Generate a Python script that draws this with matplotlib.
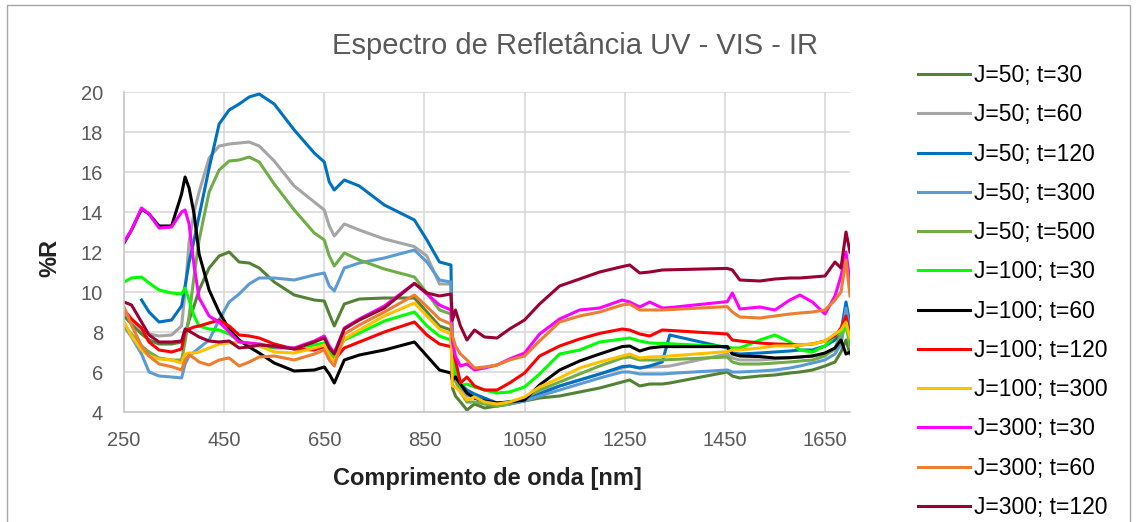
import numpy as np
import matplotlib
matplotlib.use("Agg")
import matplotlib.pyplot as plt
from matplotlib.patches import Rectangle

plt.rcParams["font.family"] = ["Liberation Sans", "DejaVu Sans"]

nan = np.nan

# wavelength grid [nm]: UV-VIS detector, then IR detector (step at ~905 nm)
wl_uv = [250, 265, 285, 300, 320, 345, 365, 372, 380, 390, 400, 420, 440, 460, 480,
         500, 520, 550, 590, 630, 650, 660, 670, 690, 720, 770, 830, 855, 880, 903]
wl_ir = [906, 912, 922, 935, 950, 970, 995, 1020, 1050, 1080, 1120, 1160, 1200, 1245,
         1260, 1280, 1300, 1325, 1340, 1455, 1465, 1480, 1520, 1550, 1580, 1600, 1625,
         1650, 1670, 1682, 1692, 1700]
wavelength = wl_uv + wl_ir

labels = ["J=50; t=30", "J=50; t=60", "J=50; t=120", "J=50; t=300", "J=50; t=500",
          "J=100; t=30", "J=100; t=60", "J=100; t=120", "J=100; t=300",
          "J=300; t=30", "J=300; t=60", "J=300; t=120"]

colors = ["#548235", "#A5A5A5", "#0070C0", "#5B9BD5", "#70AD47", "#00FF00",
          "#000000", "#FF0000", "#FFC000", "#FF00FF", "#ED7D31", "#990033"]

# %R values (UV-VIS part + IR part)
r_j50_t30 = [8.8, 8.4, 7.9, 7.6, 7.4, 7.4, 7.5, 7.9, 8.6, 9.3, 10.1, 11.2, 11.8, 12.0, 11.5,
             11.45, 11.2, 10.5, 9.85, 9.6, 9.55, 8.9, 8.3, 9.4, 9.65, 9.7, 9.7, 9.0, 8.3, 8.1] + \
            [5.2, 4.8, 4.5, 4.1, 4.4, 4.2, 4.3, 4.4, 4.55, 4.7, 4.8, 5.0, 5.2, 5.5, 5.6, 5.3,
             5.4, 5.4, 5.45, 6.0, 5.8, 5.7, 5.8, 5.85, 5.95, 6.0, 6.1, 6.3, 6.5, 7.0, 7.6, 6.9]
r_j50_t60 = [9.0, 8.6, 8.1, 7.9, 7.8, 7.85, 8.3, 10.0, 12.5, 14.0, 15.0, 16.7, 17.3, 17.4, 17.45,
             17.5, 17.3, 16.55, 15.3, 14.5, 14.1, 13.3, 12.8, 13.4, 13.1, 12.65, 12.27, 11.8, 10.4, 10.4] + \
            [6.0, 5.5, 5.2, 4.8, 4.8, 4.6, 4.4, 4.5, 4.7, 5.0, 5.3, 5.6, 5.9, 6.2, 6.3, 6.2,
             6.25, 6.27, 6.3, 6.9, 6.7, 6.6, 6.6, 6.65, 6.7, 6.75, 6.8, 6.9, 7.1, 7.5, 8.6, 7.6]
r_j50_t120 = [nan, nan, 9.6, 9.0, 8.5, 8.6, 9.3, 10.3, 11.5, 12.6, 13.8, 16.2, 18.4, 19.1, 19.4,
              19.75, 19.9, 19.4, 18.1, 16.95, 16.5, 15.5, 15.1, 15.6, 15.3, 14.35, 13.6, 12.6, 11.5, 11.35] + \
             [6.8, 6.0, 5.4, 5.1, 4.9, 4.7, 4.45, 4.5, 4.6, 4.9, 5.3, 5.6, 5.9, 6.27, 6.3, 6.2,
              6.3, 6.5, 7.85, 7.2, 6.95, 6.9, 6.95, 7.0, 7.05, 7.1, 7.1, 7.3, 7.6, 8.0, 9.5, 8.4]
r_j50_t300 = [8.3, 7.75, 6.9, 6.0, 5.8, 5.75, 5.7, 6.4, 6.8, 7.0, 7.2, 7.6, 8.6, 9.5, 9.9,
              10.4, 10.7, 10.7, 10.6, 10.85, 10.95, 10.3, 10.05, 11.2, 11.45, 11.7, 12.1, 11.5, 10.6, 10.5] + \
             [6.5, 5.8, 5.3, 4.9, 4.7, 4.5, 4.3, 4.4, 4.55, 4.8, 5.1, 5.4, 5.7, 6.0, 6.0, 5.9,
              5.9, 5.9, 5.93, 6.1, 6.0, 6.0, 6.05, 6.1, 6.2, 6.3, 6.45, 6.6, 6.9, 7.4, 9.2, 8.1]
r_j50_t500 = [8.3, 7.9, 7.3, 7.0, 6.7, 6.6, 6.6, 7.5, 8.8, 10.8, 12.6, 15.0, 16.1, 16.55, 16.6,
              16.75, 16.5, 15.4, 14.1, 12.95, 12.6, 11.8, 11.3, 11.95, 11.6, 11.15, 10.75, 9.95, 9.1, 8.9] + \
             [6.3, 5.6, 5.0, 4.5, 4.5, 4.4, 4.3, 4.4, 4.7, 5.1, 5.5, 5.9, 6.3, 6.7, 6.75, 6.6,
              6.6, 6.6, 6.62, 6.75, 6.5, 6.4, 6.4, 6.45, 6.5, 6.55, 6.6, 6.8, 7.2, 7.9, 8.3, 7.3]
r_j100_t30 = [10.5, 10.7, 10.75, 10.45, 10.1, 9.95, 9.9, 10.2, 9.6, 8.8, 8.3, 8.15, 8.1, 7.9, 7.55,
              7.4, 7.3, 7.2, 7.2, 7.35, 7.45, 7.0, 6.8, 7.6, 7.95, 8.55, 9.0, 8.3, 7.8, 7.6] + \
             [6.8, 6.0, 5.3, 5.4, 5.25, 5.1, 4.95, 5.0, 5.25, 5.9, 6.9, 7.1, 7.5, 7.65, 7.7, 7.55,
              7.45, 7.43, 7.41, 7.27, 7.2, 7.2, 7.6, 7.85, 7.5, 7.1, 7.0, 7.3, 7.8, 8.0, 8.3, 7.6]
r_j100_t60 = [12.45, 13.1, 14.15, 13.9, 13.3, 13.3, 14.9, 15.75, 15.2, 13.9, 11.9, 10.1, 9.0, 8.15, 7.6,
              7.25, 6.95, 6.45, 6.05, 6.1, 6.25, 5.9, 5.45, 6.6, 6.85, 7.1, 7.5, 6.8, 6.1, 5.95] + \
             [5.6, 5.75, 5.4, 4.95, 4.7, 4.55, 4.45, 4.5, 4.6, 5.35, 6.1, 6.55, 6.9, 7.27, 7.3, 7.05,
              7.2, 7.27, 7.27, 7.27, 6.9, 6.8, 6.77, 6.7, 6.72, 6.75, 6.8, 6.95, 7.2, 7.6, 6.9, 7.0]
r_j100_t120 = [9.1, 8.65, 8.2, 7.5, 7.1, 7.0, 7.15, 8.0, 8.15, 8.25, 8.3, 8.45, 8.6, 8.3, 7.85,
               7.8, 7.7, 7.4, 7.15, 7.1, 7.27, 6.8, 6.6, 7.2, 7.5, 8.0, 8.5, 7.85, 7.4, 7.27] + \
              [7.0, 6.6, 5.45, 5.75, 5.3, 5.1, 5.1, 5.45, 5.95, 6.8, 7.3, 7.65, 7.93, 8.15, 8.1, 7.9,
               7.8, 8.1, 8.08, 7.9, 7.6, 7.55, 7.45, 7.4, 7.38, 7.35, 7.4, 7.55, 7.8, 8.2, 8.8, 7.8]
r_j100_t300 = [8.5, 7.8, 7.1, 6.8, 6.65, 6.6, 6.45, 6.9, 6.95, 6.95, 7.0, 7.2, 7.4, 7.45, 7.5,
               7.45, 7.3, 7.0, 6.95, 7.2, 7.35, 6.8, 6.55, 7.65, 8.1, 8.8, 9.45, 8.8, 8.15, 7.9] + \
              [5.3, 5.25, 5.0, 4.6, 4.75, 4.5, 4.4, 4.5, 4.75, 5.25, 5.7, 6.2, 6.5, 6.8, 6.9, 6.7,
               6.75, 6.77, 6.8, 7.02, 7.1, 7.1, 7.2, 7.3, 7.3, 7.35, 7.4, 7.55, 7.9, 8.1, 8.5, 7.7]
r_j300_t30 = [12.5, 13.1, 14.2, 13.9, 13.2, 13.25, 14.0, 14.1, 13.4, 11.3, 9.7, 8.8, 8.5, 8.0, 7.5,
              7.45, 7.4, 7.25, 7.2, 7.55, 7.8, 7.3, 6.95, 8.2, 8.65, 9.3, 10.43, 9.9, 9.35, 9.1] + \
             [7.5, 6.8, 6.3, 6.4, 6.1, 6.2, 6.35, 6.65, 6.95, 7.9, 8.65, 9.1, 9.2, 9.6, 9.5, 9.25,
              9.5, 9.2, 9.22, 9.52, 9.95, 9.15, 9.25, 9.1, 9.6, 9.85, 9.5, 8.9, 9.8, 10.8, 12.0, 10.5]
r_j300_t60 = [9.25, 8.35, 7.3, 6.8, 6.4, 6.27, 6.1, 6.6, 6.85, 6.7, 6.5, 6.35, 6.6, 6.7, 6.3,
              6.5, 6.75, 6.8, 6.6, 6.9, 7.1, 6.6, 6.3, 7.9, 8.35, 9.0, 9.85, 9.27, 8.65, 8.4] + \
             [7.8, 7.3, 6.9, 6.6, 6.2, 6.25, 6.35, 6.6, 6.8, 7.55, 8.5, 8.8, 9.0, 9.35, 9.4, 9.1,
              9.1, 9.1, 9.12, 9.27, 9.0, 8.75, 8.7, 8.8, 8.9, 8.95, 9.0, 9.1, 9.6, 10.0, 11.6, 9.8]
r_j300_t120 = [9.5, 9.35, 8.5, 7.85, 7.5, 7.5, 7.55, 8.15, 8.05, 7.9, 7.75, 7.55, 7.5, 7.55, 7.2,
               7.25, 7.35, 7.3, 7.15, 7.5, 7.7, 7.2, 6.9, 8.15, 8.6, 9.2, 10.43, 9.95, 9.8, 9.9] + \
              [8.6, 9.1, 8.3, 7.6, 8.1, 7.75, 7.7, 8.15, 8.6, 9.4, 10.3, 10.65, 11.0, 11.27, 11.35, 10.95,
               11.0, 11.1, 11.11, 11.18, 11.1, 10.6, 10.55, 10.65, 10.7, 10.7, 10.75, 10.8, 11.5, 11.2, 13.0, 12.0]

series = [r_j50_t30, r_j50_t60, r_j50_t120, r_j50_t300, r_j50_t500,
          r_j100_t30, r_j100_t60, r_j100_t120, r_j100_t300,
          r_j300_t30, r_j300_t60, r_j300_t120]


def main():
    W, H = 1136, 522
    fig = plt.figure(figsize=(W / 100, H / 100), dpi=100)
    ax = fig.add_axes([124 / W, 1 - 412 / H, (850 - 124) / W, (412 - 92) / H])

    handles = []
    for vals, lab, col in zip(series, labels, colors):
        h, = ax.plot(wavelength, vals, color=col, lw=2.2, label=lab)
        handles.append(h)

    ax.set_xlim(250, 1700)
    ax.set_ylim(4, 20)
    ax.set_xticks(range(250, 1700, 200))
    ax.set_yticks(range(4, 21, 2))
    ax.grid(True, color="#D9D9D9", lw=1.2)
    ax.set_axisbelow(True)
    for s in ["top", "right"]:
        ax.spines[s].set_visible(False)
    for s in ["left", "bottom"]:
        ax.spines[s].set_color("#C8C8C8")
        ax.spines[s].set_linewidth(1.2)
    ax.tick_params(length=0, labelsize=14.5, colors="#595959")
    ax.tick_params(axis="y", pad=15)
    ax.tick_params(axis="x", pad=14)

    fig.text(575 / W, 1 - 46 / H, "Espectro de Refletância UV - VIS - IR",
             ha="center", va="center", fontsize=21, color="#595959")
    fig.text(487 / W, 1 - 478 / H, "Comprimento de onda [nm]",
             ha="center", va="center", fontsize=17, fontweight="bold", color="#222222")
    fig.text(50 / W, 1 - 258 / H, "%R", rotation=90,
             ha="center", va="center", fontsize=17, fontweight="bold", color="#222222")

    fig.legend(handles, labels, loc="upper left",
               bbox_to_anchor=(918 / W, 1 - 64 / H), frameon=False, fontsize=16.5,
               handlelength=2.25, handletextpad=0.2, labelspacing=0.71, borderpad=0,
               borderaxespad=0)

    fig.patches.append(Rectangle((7 / W, -0.01), (1130 - 7) / W, 1 - 5 / H + 0.01,
                                 transform=fig.transFigure, fill=False,
                                 edgecolor="#A6A6A6", lw=1))

    fig.savefig("out.png", dpi=100)


if __name__ == "__main__":
    main()
